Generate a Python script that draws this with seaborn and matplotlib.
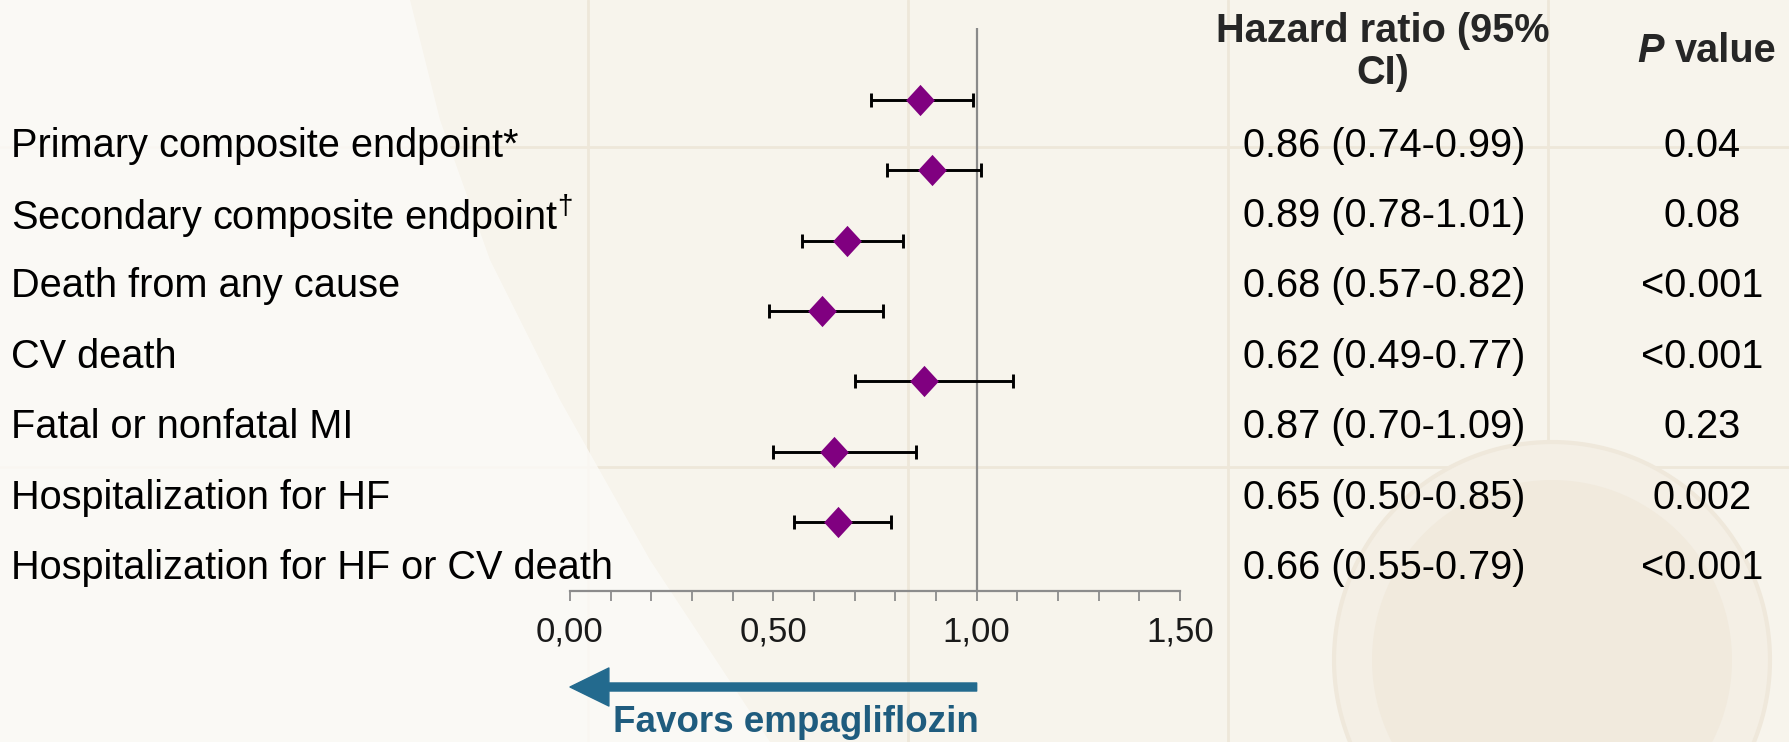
import numpy as np
import matplotlib
matplotlib.use("Agg")
import matplotlib.pyplot as plt
import matplotlib.transforms as mtransforms
from matplotlib.patches import Polygon
from matplotlib.lines import Line2D
import seaborn as sns

# ---------------- data ----------------
labels = [
    "Primary composite endpoint*",
    "Secondary composite endpoint$^{\u2020}$",
    "Death from any cause",
    "CV death",
    "Fatal or nonfatal MI",
    "Hospitalization for HF",
    "Hospitalization for HF or CV death",
]
hr = [0.86, 0.89, 0.68, 0.62, 0.87, 0.65, 0.66]
ci_low = [0.74, 0.78, 0.57, 0.49, 0.70, 0.50, 0.55]
ci_high = [0.99, 1.01, 0.82, 0.77, 1.09, 0.85, 0.79]
p_values = ["0.04", "0.08", "<0.001", "<0.001", "0.23", "0.002", "<0.001"]
major_ticks = [0.0, 0.5, 1.0, 1.5]
tick_labels = ["0,00", "0,50", "1,00", "1,50"]
header_hr = ["Hazard ratio (95%", "CI)"]
arrow_text = "Favors empagliflozin"

# ---------------- style ----------------
sns.set_style("white")
plt.rcParams["font.family"] = ["Liberation Sans", "DejaVu Sans"]
plt.rcParams["mathtext.fontset"] = "custom"
plt.rcParams["mathtext.rm"] = "Liberation Sans"
plt.rcParams["mathtext.it"] = "Liberation Sans"

W, H = 1790, 742
fig = plt.figure(figsize=(W / 100, H / 100), dpi=100)
bg = "#f7f4ec"
fig.patch.set_facecolor(bg)

# background decoration (slide design)
deco = "#eee7d9"
for xv in [588, 908, 1228, 1548]:
    fig.add_artist(Line2D([xv / W, xv / W], [0, 1], color=deco, lw=2, zorder=0))
for yv in [147, 467]:
    fig.add_artist(Line2D([0, 1], [1 - yv / H, 1 - yv / H], color=deco, lw=2, zorder=0))
# watermark circle
cx, cy, r = 1552, 660, 218
theta = np.linspace(0, 2 * np.pi, 200)
fig.add_artist(Polygon(np.column_stack([(cx + r * np.cos(theta)) / W, 1 - (cy + r * np.sin(theta)) / H]),
                       closed=True, transform=fig.transFigure, facecolor="#f4efe5", edgecolor="#efe8db",
                       lw=3, zorder=0.5))
r2 = 180
fig.add_artist(Polygon(np.column_stack([(cx + r2 * np.cos(theta)) / W, 1 - (cy + r2 * np.sin(theta)) / H]),
                       closed=True, transform=fig.transFigure, facecolor="#f1eadd", edgecolor="none",
                       zorder=0.6))
# light left region
light_pts = [(0, 0), (410, 0), (440, 120), (490, 260), (560, 400), (650, 560), (770, 742), (0, 742)]
fig.add_artist(Polygon([(x / W, 1 - y / H) for x, y in light_pts], closed=True,
                       transform=fig.transFigure, facecolor="#fcfbf8", edgecolor="none",
                       alpha=0.8, zorder=1))

# ---------------- axes ----------------
x0, x1 = 570, 1180
ax_bottom_px = 591
ax = fig.add_axes([x0 / W, 1 - ax_bottom_px / H, (x1 - x0) / W, ax_bottom_px / H])
ax.set_facecolor("none")
ax.set_zorder(5)
n = len(labels)
rows = np.arange(n)
px_per_row = 70.36
row0_px = 100
ytop = -row0_px / px_per_row
ybot = (ax_bottom_px - row0_px) / px_per_row

# reference line at 1.0
ax.vlines(1.0, -(row0_px - 28) / px_per_row, ybot, color="#8a8a8a", lw=1.6, zorder=1)

# CIs
ax.errorbar(hr, rows, xerr=[np.array(hr) - np.array(ci_low), np.array(ci_high) - np.array(hr)],
            fmt="none", ecolor="black", elinewidth=2.1, capsize=5.2, capthick=2.1, zorder=2)
diamond = [(0, 1), (0.92, 0), (0, -1), (-0.92, 0), (0, 1)]
sns.scatterplot(x=hr, y=rows, ax=ax, marker=diamond, s=22.5 ** 2, color="#800080",
                edgecolor="#800080", linewidth=0, zorder=3, legend=False)

ax.set_xlim(0, 1.5)
ax.set_ylim(ybot, ytop)
for s in ["top", "left", "right"]:
    ax.spines[s].set_visible(False)
ax.spines["bottom"].set_color("#8c8c8c")
ax.spines["bottom"].set_linewidth(1.6)
ax.set_xticks(major_ticks)
ax.set_xticklabels(tick_labels)
ax.set_xticks(np.round(np.arange(0, 1.51, 0.1), 2), minor=True)
ax.tick_params(axis="x", which="both", direction="out", length=7.5, width=1.3,
               color="#8c8c8c", bottom=True)
ax.tick_params(axis="x", which="major", labelsize=25, labelcolor="#1a1a1a", pad=10)
ax.set_yticks([])
ax.set_xlabel("")
ax.set_ylabel("")

# texts
blend = mtransforms.blended_transform_factory(fig.transFigure, ax.transData)
fs = 28.6
off = 0.65
for i in range(n):
    ax.text(11 / W, i + off, labels[i], transform=blend, ha="left", va="center",
            fontsize=fs, color="black")
    ax.text(1384 / W, i + off, f"{hr[i]:.2f} ({ci_low[i]:.2f}-{ci_high[i]:.2f})", transform=blend,
            ha="center", va="center", fontsize=fs, color="black")
    ax.text(1702 / W, i + off, p_values[i], transform=blend, ha="center", va="center",
            fontsize=fs, color="black")

ax.text(1383 / W, (31 - row0_px) / px_per_row, header_hr[0], transform=blend, ha="center",
        va="center", fontsize=fs, fontweight="bold")
ax.text(1383 / W, (73 - row0_px) / px_per_row, header_hr[1], transform=blend, ha="center",
        va="center", fontsize=fs, fontweight="bold")
ax.text(1664 / W, (51 - row0_px) / px_per_row, "P", transform=blend, ha="right", va="center",
        fontsize=fs, fontweight="bold", fontstyle="italic")
ax.text(1675 / W, (51 - row0_px) / px_per_row, "value", transform=blend, ha="left", va="center",
        fontsize=fs, fontweight="bold")

# arrow
xform = ax.get_xaxis_transform()
arrow_y = -(687 - ax_bottom_px) / ax_bottom_px
ax.annotate("", xy=(0.0, arrow_y), xytext=(1.0, arrow_y), xycoords=xform, textcoords=xform,
            arrowprops=dict(arrowstyle="simple,head_length=1.4,head_width=1.37,tail_width=0.29",
                            color="#236a8e", shrinkA=0, shrinkB=0, mutation_scale=20),
            annotation_clip=False)
ax.text(796 / W, -(723 - ax_bottom_px) / ax_bottom_px,
        arrow_text, transform=mtransforms.blended_transform_factory(fig.transFigure, ax.transAxes),
        ha="center", va="center", fontsize=26.5, fontweight="bold", color="#1f5c7e")

fig.savefig("out.png", dpi=100, facecolor=fig.get_facecolor())
